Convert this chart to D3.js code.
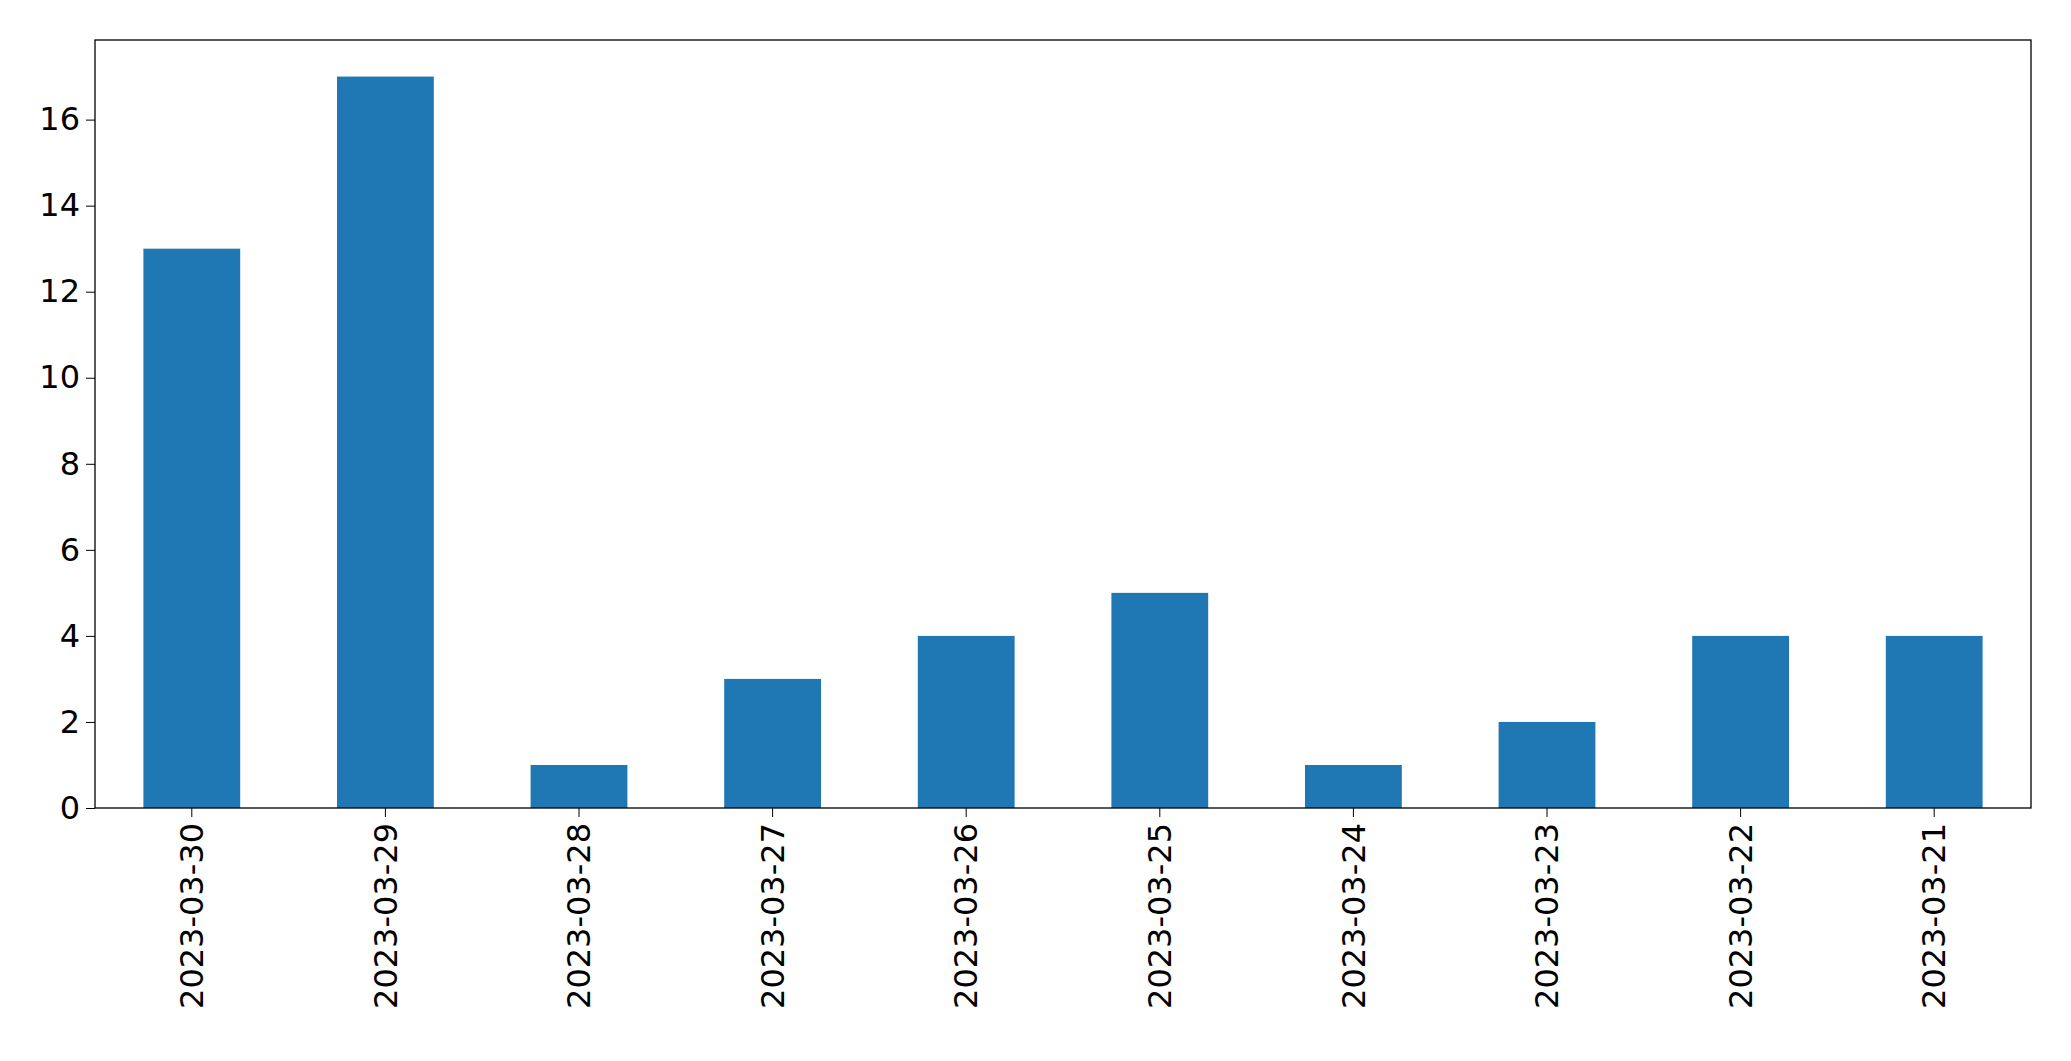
<!DOCTYPE html>
<html lang="en">
<head>
<meta charset="utf-8">
<title>Bar chart</title>
<script src="https://d3js.org/d3.v7.min.js"></script>
<style>
  body { margin: 0; background: #fff; }
  text { font-family: "DejaVu Sans", sans-serif; }
</style>
</head>
<body>
<script>
var categories = ["2023-03-30", "2023-03-29", "2023-03-28", "2023-03-27", "2023-03-26",
                  "2023-03-25", "2023-03-24", "2023-03-23", "2023-03-22", "2023-03-21"];
var values = [13, 17, 1, 3, 4, 5, 1, 2, 4, 4];
var yTicks = [0, 2, 4, 6, 8, 10, 12, 14, 16];

var width = 2071, height = 1061;
var margin = {top: 40, right: 40, bottom: 253, left: 95};
var w = width - margin.left - margin.right;
var h = height - margin.top - margin.bottom;

var svg = d3.select("body").append("svg")
    .attr("width", width)
    .attr("height", height);

var g = svg.append("g")
    .attr("transform", "translate(" + margin.left + "," + margin.top + ")");

var x = d3.scaleBand()
    .domain(categories)
    .range([0, w])
    .paddingInner(0.5)
    .paddingOuter(0.25);

var y = d3.scaleLinear()
    .domain([0, 17 * 1.05])
    .range([h, 0]);

g.selectAll(".bar")
    .data(values)
    .enter()
    .append("rect")
    .attr("class", "bar")
    .attr("x", function(d, i) { return x(categories[i]); })
    .attr("y", function(d) { return y(d); })
    .attr("width", x.bandwidth())
    .attr("height", function(d) { return h - y(d); })
    .attr("fill", "#1f77b4");

var xAxis = g.append("g")
    .attr("transform", "translate(0," + h + ")")
    .call(d3.axisBottom(x).tickSize(9).tickPadding(6));
xAxis.select(".domain").remove();
xAxis.selectAll("text")
    .attr("font-size", 32)
    .attr("fill", "#000")
    .attr("transform", "rotate(-90)")
    .attr("text-anchor", "end")
    .attr("x", -15)
    .attr("y", 0)
    .attr("dy", "0.35em");

var yAxis = g.append("g")
    .call(d3.axisLeft(y).tickValues(yTicks).tickSize(9).tickPadding(6));
yAxis.select(".domain").remove();
yAxis.selectAll("text")
    .attr("font-size", 32)
    .attr("fill", "#000");

g.append("rect")
    .attr("width", w)
    .attr("height", h)
    .attr("fill", "none")
    .attr("stroke", "#000")
    .attr("stroke-width", 1.3);
</script>
</body>
</html>
